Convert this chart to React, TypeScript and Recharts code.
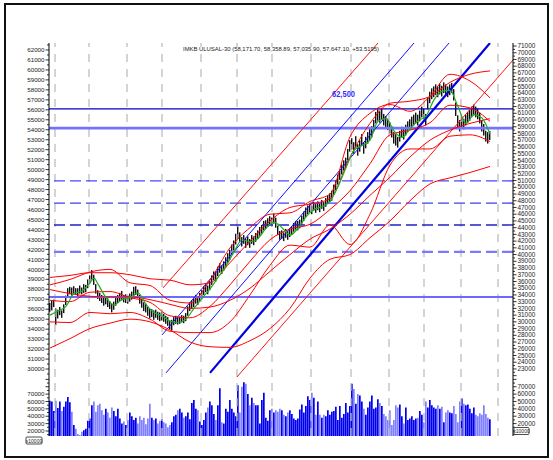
import React from 'react';
import { ComposedChart, Bar, Line, XAxis, YAxis, ReferenceLine, Cell } from 'recharts';

// ---------- data (daily, Nov 2008 - Nov 2009) ----------
const close = [
32100,32400,32700,30900,31200,31500,31200,31800,33300,34300,
34700,34400,34700,34600,34400,34700,34600,34900,35000,35600,
36200,37000,36200,34700,34000,33700,33300,33000,33100,32800,
32500,32100,32400,33000,33300,33700,33800,33400,33400,33300,
33600,33800,34400,34700,34100,33300,32700,32200,32100,31500,
31200,31300,31000,31200,30900,30700,30900,30600,30300,30000,
29500,29700,30100,30300,30100,30300,30400,30300,30600,31600,
32200,32500,32800,33300,33100,33600,34000,34600,35000,34700,
35300,36200,36800,36700,37400,38000,37700,38300,38900,39500,
39900,40700,41300,42200,43100,42500,41900,42200,41700,42000,
41600,42200,42000,42500,42900,43400,43700,44300,44400,44700,
45000,44800,45300,44700,43500,42800,42900,42600,43100,42800,
43200,43500,44000,44300,44300,44500,45100,45700,46300,46600,
46900,46600,47100,46800,47200,46900,47400,47100,47700,48100,
48400,48700,49600,50300,51100,51800,52600,53200,53600,54800,
56100,56400,55800,56700,55500,56100,57000,55800,56600,57300,
57800,58200,59100,60300,60700,60400,60900,60000,59700,59300,
58800,58200,57300,57000,56700,57600,58200,57900,58500,59000,
59300,59700,60000,60300,60000,60600,61200,60900,60000,62400,
63300,63900,64200,64500,64200,64600,64300,64800,64500,64200,
64500,64800,63700,61500,59700,59100,59700,59400,60000,60400,
60700,61200,61500,61200,60900,60300,59100,58500,57600,57300,
57647];

const high = [
32800,33100,33300,32000,31800,32200,31700,32600,33900,35000,
35200,35100,35300,35000,35000,35400,35100,35600,35500,36300,
36900,37700,37000,35600,34700,34300,34000,33600,33800,33500,
33100,32700,33000,33600,34000,34300,34600,34000,34100,33900,
34200,34500,35200,35300,34800,34000,33400,32900,32700,32200,
31900,31900,31700,31800,31500,31400,31500,31200,30900,30700,
30200,30300,30700,30900,30700,30800,31000,30900,31300,32300,
32900,33200,33500,34000,33800,34300,34700,35300,35700,35400,
36100,36900,37500,37400,38200,38700,38400,39000,39600,40200,
40700,41500,42100,43100,44200,43300,42600,42900,42400,42700,
42300,42900,42700,43200,43600,44100,44400,45000,45100,45400,
45700,45500,46100,45500,44300,43500,43600,43300,43800,43500,
43900,44200,44700,45000,45000,45200,45800,46400,47000,47300,
47600,47300,47800,47500,47900,47600,48100,47800,48400,48800,
49100,49500,50400,51100,51900,52600,53400,54000,54400,55700,
57000,57300,56700,57600,56400,57000,57900,56700,57500,58200,
58700,59100,60000,61200,61600,61300,61800,60900,60600,60200,
59700,59100,58200,57900,57500,58400,59000,58700,59300,59800,
60100,60500,60800,61100,60800,61400,62000,61700,60900,63300,
64200,64700,65000,65300,65000,65400,65100,65600,65300,65000,
65300,65500,64600,62600,60700,60000,60500,60200,60800,61200,
61500,62000,62300,62000,61700,61100,60000,59400,58400,58200,
58359];

const low = [
31500,31700,32200,29500,30500,31000,30600,31300,32500,33700,
34100,33900,34200,34000,33800,34200,34100,34300,34400,35000,
35700,36300,35500,34200,33400,33100,32800,32400,32600,32200,
31900,31400,31800,32400,32800,33100,33200,32900,32800,32700,
33000,33300,33800,34000,33500,32700,32100,31600,31400,30900,
30500,30700,30300,30600,30300,30100,30200,30000,29700,29400,
28900,28700,29500,29700,29600,29700,29900,29800,30100,30900,
31600,31900,32200,32700,32500,33000,33400,34000,34400,34100,
34700,35500,36200,36000,36800,37300,37100,37600,38200,38800,
39200,40000,40600,41500,42300,41800,41200,41600,41000,41400,
41000,41600,41400,41900,42300,42800,43100,43600,43800,44100,
44400,44200,44600,44000,42900,42200,42300,42000,42500,42200,
42600,42900,43400,43700,43600,43900,44400,45000,45600,46000,
46300,46000,46500,46200,46600,46300,46800,46500,47100,47500,
47800,48000,48900,49600,50400,51100,51900,52500,52900,54000,
55300,55600,55000,55900,54700,55300,56200,55000,55800,56500,
57000,57400,58300,59500,59900,59600,60100,59200,58900,58500,
58000,57400,56500,56200,55900,56800,57400,57100,57700,58200,
58500,58900,59200,59500,59200,59800,60400,60100,59200,61600,
62500,63100,63400,63700,63400,63800,63500,64000,63700,63400,
63700,64000,62900,60600,58900,58300,58900,58600,59200,59600,
59900,60400,60700,60400,60100,59500,58300,57700,56800,56500,
57036];

const volume = [
61000,60000,47000,61000,51000,60000,47000,53000,60000,66000,59000,46000,
28000,23000,16000,14000,19000,21000,23000,
34000,37000,55000,60000,46000,55000,57000,
48000,42000,50000,45000,38000,52000,47000,40000,50000,37000,30000,33000,28000,35000,45000,40000,35000,38000,30000,40000,
35000,38000,29000,37000,57000,38000,35000,37000,30000,34000,36000,
32000,30000,25000,28000,32000,40000,42000,48000,50000,45000,38000,40000,45000,36000,58000,62000,50000,48000,33000,
28000,35000,45000,52000,60000,55000,43000,35000,55000,78000,32000,30000,50000,46000,62000,50000,45000,40000,
82000,45000,80000,86000,84000,70000,55000,65000,58000,55000,55000,30000,62000,72000,38000,34000,
48000,50000,45000,48000,46000,50000,48000,
42000,40000,45000,48000,43000,37000,35000,37000,49000,56000,45000,54000,67000,62000,
72000,65000,42000,60000,42000,38000,42000,40000,48000,42000,46000,47000,53000,35000,54000,38000,43000,58000,45000,54000,
84000,77000,57000,70000,68000,60000,50000,42000,52000,60000,68000,50000,52000,63000,58000,54000,43000,40000,35000,48000,
28000,35000,55000,52000,56000,40000,30000,52000,35000,37000,40000,35000,37000,38000,47000,42000,32000,
60000,52000,62000,55000,52000,50000,55000,50000,53000,32000,45000,48000,45000,44000,54000,43000,32000,60000,64000,
57000,55000,56000,50000,44000,52000,42000,40000,44000,42000,55000,43000,38000,36000];

// short moving average (green), sampled
const maIdx = [0,4,8,12,16,20,22,24,28,32,36,40,44,48,52,56,60,64,68,72,76,80,84,88,92,96,100,104,108,112,116,120,124,128,132,136,140,144,148,152,156,160,164,168,172,176,180,184,188,192,196,200,204,208,212,216,220];
const maVal = [31000,31600,32300,34200,34600,35800,36500,35600,33600,32500,33300,33600,34300,32600,31400,30900,30100,29900,30400,32000,33500,34900,36600,38300,40400,42200,41900,42400,43900,44800,44000,42900,43900,45600,46700,47100,47900,50100,52900,55500,56200,57000,59800,60200,58400,57400,58700,59900,60600,63000,64300,64400,62000,59500,60800,60300,57900];

// Bollinger style bands (red), sampled every 10 sessions
const bandIdx = [0,10,20,30,40,50,60,70,80,90,100,110,120,130,140,150,160,170,180,190,200,210,220];
const mid20 = [33200,33000,34400,34500,33600,32900,30900,30600,32300,35500,39000,42200,43800,44500,46700,49500,53500,57800,58500,59600,62200,61800,59800];
const upper20 = [35500,36300,37400,37800,35800,35400,33200,32800,36200,41000,44000,46000,46200,47900,49000,57500,61000,62300,61300,63500,66800,65800,63300];
const lower20 = [30000,29900,31400,31200,31400,30400,28600,28400,28400,30000,34000,38400,41400,41100,44400,41500,46000,53300,55700,55700,57600,57800,56800];
const mid50 = [34800,34200,33800,33700,33700,33300,32600,32000,32200,33200,35000,37500,40000,42300,43800,46000,48800,51500,54500,57000,58500,59500,60200];
const upper50 = [36600,36900,37300,37300,37000,36400,36200,35500,35800,38800,42000,45000,47000,47500,48300,54500,59500,62500,62800,63500,65600,66800,67300];
const lower50 = [26100,27500,29000,29800,30400,30000,28800,27000,26300,26200,27200,29000,32000,36500,39300,40000,42500,45000,48000,50500,51400,52200,53100];

// support / resistance levels
const levels = [61650, 58800, 50950, 47650, 44400, 40400, 33700];

// regression channel end points [session, value]
const channels = [
  [[56, 28050], [182, 71450]],
  [[58, 22410], [199.5, 71450]],
  [[80, 22410], [220, 71450]],
  [[56.5, 35040], [164, 71450]],
  [[93.5, 21810], [231.5, 68920]],
];

const monthTicks = [2.5, 19.5, 38.5, 56, 75.5, 93.5, 111, 130.5, 150.5, 169.5, 187, 205.5, 224];
const monthLabels = ['December', '2009', 'February', 'March', 'April', 'May', 'June', 'July', 'August', 'September', 'October', 'November', 'Dece'];

const titleText = 'IMKB ULUSAL-30 (58,171.70, 58,358.89, 57,035.90, 57,647.10, +53.5195)';
const targetLabel = '62,500';

// ---------- styles ----------
const FONT = 'Liberation Sans, Arial, sans-serif';
const levelStyles = [
  { stroke: '#0000cc', w: 1.2, dash: undefined },
  { stroke: '#7373ff', w: 2.6, dash: undefined },
  { stroke: '#4848ff', w: 1.4, dash: '11 5' },
  { stroke: '#4040ee', w: 1.4, dash: '11 5' },
  { stroke: '#2020c8', w: 1.4, dash: '11 5' },
  { stroke: '#7a7aff', w: 2.2, dash: '11 5' },
  { stroke: '#6a6aff', w: 2.0, dash: undefined },
];
const channelStyles = [
  { stroke: '#1010ff', w: 1 },
  { stroke: '#1010ff', w: 1 },
  { stroke: '#0000e0', w: 2.2 },
  { stroke: '#ff1010', w: 1 },
  { stroke: '#ff1010', w: 1 },
];

// ---------- tables built from arrays ----------
const priceRows: any[] = close.map((c, i) => ({ i, c, rng: [low[i], high[i]] }));
maIdx.forEach((ix, k) => { priceRows[ix].ma = maVal[k]; });
bandIdx.forEach((ix, k) => {
  const r = priceRows[ix];
  r.m20 = mid20[k]; r.u20 = upper20[k]; r.l20 = lower20[k];
  r.m50 = mid50[k]; r.u50 = upper50[k]; r.l50 = lower50[k];
});
const volRows = volume.map((v, i) => ({ i, v, up: i === 0 || close[i] >= close[i - 1] }));

const range = (a: number, b: number, s: number) => { const r: number[] = []; for (let v = a; v <= b; v += s) r.push(v); return r; };
const leftTicks = range(29500, 62500, 500);
const rightTicks = range(22000, 71000, 500);
const volLeftTicks = range(15000, 90000, 5000);
const volRightTicks = range(5000, 80000, 5000);

const XDOMAIN: [number, number] = [-0.5, 231.5];

function LeftTick(props: any) {
  const { x, y, payload } = props;
  const v = payload.value;
  const major = v % 1000 === 0;
  return (
    <g>
      <line x1={x - (major ? 3.5 : 2)} x2={x} y1={y} y2={y} stroke="#000" strokeWidth={0.8} />
      {major && <text x={x - 4.5} y={y + 2.2} textAnchor="end" fontSize={6.2} fontFamily={FONT} fill="#222">{v}</text>}
    </g>
  );
}
function RightTick(props: any) {
  const { x, y, payload } = props;
  const v = payload.value;
  const major = v % 1000 === 0 && v >= 23000;
  return (
    <g>
      <line x1={x} x2={x + (v % 1000 === 0 ? 3.5 : 2)} y1={y} y2={y} stroke="#000" strokeWidth={0.8} />
      {major && <text x={x + 4.5} y={y + 2.2} textAnchor="start" fontSize={6.4} fontFamily={FONT} fill="#222">{v}</text>}
    </g>
  );
}
function VolLeftTick(props: any) {
  const { x, y, payload } = props;
  const v = payload.value;
  const major = v % 10000 === 0 && v >= 20000 && v <= 70000;
  return (
    <g>
      <line x1={x - (v % 10000 === 0 ? 3.5 : 2)} x2={x} y1={y} y2={y} stroke="#000" strokeWidth={0.8} />
      {major && <text x={x - 4.5} y={y + 2.2} textAnchor="end" fontSize={6.2} fontFamily={FONT} fill="#222">{v}</text>}
    </g>
  );
}
function VolRightTick(props: any) {
  const { x, y, payload } = props;
  const v = payload.value;
  const major = v % 10000 === 0 && v >= 20000 && v <= 70000;
  return (
    <g>
      <line x1={x} x2={x + (v % 10000 === 0 ? 3.5 : 2)} y1={y} y2={y} stroke="#000" strokeWidth={0.8} />
      {major && <text x={x + 4.5} y={y + 2.2} textAnchor="start" fontSize={6.4} fontFamily={FONT} fill="#222">{v}</text>}
    </g>
  );
}
function MonthTick(props: any) {
  const { x, y, payload } = props;
  const k = monthTicks.indexOf(payload.value);
  return (
    <g>
      <line x1={x} x2={x} y1={y} y2={y + 10} stroke="#000" strokeWidth={1.2} />
      <text x={x + 2.5} y={y + 7.5} fontSize={6.2} fontFamily={FONT} fill="#222">{monthLabels[k]}</text>
    </g>
  );
}
function CandleShape(props: any) {
  const { x, y, width, height } = props;
  if (x == null || y == null) return null;
  const top = Math.min(y, y + height);
  const h = Math.max(Math.abs(height), 1);
  return <rect x={x + width / 2 - 0.7} y={top} width={1.4} height={h} fill="#111" />;
}

export default function App() {
  return (
    <div style={{ position: 'absolute', left: 0, top: 0, width: 553, height: 460, background: '#fff' }}>
      <div style={{ position: 'absolute', left: 0, top: 0 }}>
        <ComposedChart width={553} height={460} data={priceRows} margin={{ top: 43, right: 0, left: 0, bottom: 83 }}>
          <XAxis type="number" dataKey="i" domain={XDOMAIN} allowDataOverflow height={0} tick={false} tickLine={false} axisLine={{ stroke: '#555' }} />
          <YAxis yAxisId="l" orientation="left" width={49} domain={[29200, 62700]} allowDataOverflow ticks={leftTicks} interval={0} tickSize={0} tickMargin={0} tick={(p: any) => <LeftTick {...p} />} axisLine={{ stroke: '#000' }} />
          <YAxis yAxisId="r" orientation="right" width={40} domain={[21800, 71450]} allowDataOverflow ticks={rightTicks} interval={0} tickSize={0} tickMargin={0} tick={(p: any) => <RightTick {...p} />} axisLine={{ stroke: '#000' }} />
          {monthTicks.map((m) => (
            <ReferenceLine key={'g' + m} x={m} yAxisId="r" stroke="#bdbdbd" strokeWidth={1.3} strokeDasharray="8 7" />
          ))}
          {levels.map((lv, k) => (
            <ReferenceLine key={'lv' + k} y={lv} yAxisId="r" stroke={levelStyles[k].stroke} strokeWidth={levelStyles[k].w} strokeDasharray={levelStyles[k].dash} />
          ))}
          {channels.map((seg, k) => (
            <ReferenceLine key={'ch' + k} yAxisId="r" ifOverflow="hidden" segment={[{ x: seg[0][0], y: seg[0][1] }, { x: seg[1][0], y: seg[1][1] }]} stroke={channelStyles[k].stroke} strokeWidth={channelStyles[k].w} />
          ))}
          <Line yAxisId="r" dataKey="u50" stroke="#ff0000" strokeWidth={1} dot={false} connectNulls type="monotone" isAnimationActive={false} />
          <Line yAxisId="r" dataKey="m50" stroke="#ff0000" strokeWidth={1} dot={false} connectNulls type="monotone" isAnimationActive={false} />
          <Line yAxisId="r" dataKey="l50" stroke="#ff0000" strokeWidth={1} dot={false} connectNulls type="monotone" isAnimationActive={false} />
          <Line yAxisId="r" dataKey="u20" stroke="#ff0000" strokeWidth={1} dot={false} connectNulls type="monotone" isAnimationActive={false} />
          <Line yAxisId="r" dataKey="m20" stroke="#ff0000" strokeWidth={1} dot={false} connectNulls type="monotone" isAnimationActive={false} />
          <Line yAxisId="r" dataKey="l20" stroke="#ff0000" strokeWidth={1} dot={false} connectNulls type="monotone" isAnimationActive={false} />
          <Bar yAxisId="r" dataKey="rng" barSize={1.4} shape={(p: any) => <CandleShape {...p} />} isAnimationActive={false} />
          <Line yAxisId="r" dataKey="ma" stroke="#1fae1f" strokeWidth={1.2} dot={false} connectNulls type="monotone" isAnimationActive={false} />
        </ComposedChart>
      </div>
      <div style={{ position: 'absolute', left: 0, top: 0 }}>
        <ComposedChart width={553} height={460} data={volRows} margin={{ top: 377, right: 0, left: 0, bottom: 24 }}>
          <XAxis type="number" dataKey="i" domain={XDOMAIN} allowDataOverflow height={0} ticks={monthTicks} interval={0} tickSize={0} tickMargin={0} tick={(p: any) => <MonthTick {...p} />} axisLine={{ stroke: '#000' }} />
          <YAxis yAxisId="vl" orientation="left" width={49} domain={[13200, 93200]} allowDataOverflow ticks={volLeftTicks} interval={0} tickSize={0} tickMargin={0} tick={(p: any) => <VolLeftTick {...p} />} axisLine={{ stroke: '#000' }} />
          <YAxis yAxisId="vr" orientation="right" width={40} domain={[3150, 83230]} allowDataOverflow ticks={volRightTicks} interval={0} tickSize={0} tickMargin={0} tick={(p: any) => <VolRightTick {...p} />} axisLine={{ stroke: '#000' }} />
          {monthTicks.map((m) => (
            <ReferenceLine key={'vg' + m} x={m} yAxisId="vl" stroke="#bdbdbd" strokeWidth={1.3} strokeDasharray="8 7" />
          ))}
          <Bar yAxisId="vl" dataKey="v" barSize={1.7} isAnimationActive={false}>
            {volRows.map((r) => (
              <Cell key={r.i} fill={r.up ? '#0000ee' : '#7f7fff'} />
            ))}
          </Bar>
        </ComposedChart>
      </div>
      <svg width={553} height={460} style={{ position: 'absolute', left: 0, top: 0, pointerEvents: 'none' }}>
        <rect x={5} y={4} width={543} height={453} fill="none" stroke="#111" strokeWidth={2} />
        <text x={183} y={51} fontSize={6} fontFamily={FONT} fill="#222" textLength={196} lengthAdjust="spacingAndGlyphs">{titleText}</text>
        <text x={332} y={97} fontSize={8.5} fontWeight="bold" fontFamily={FONT} fill="#3030ff" textLength={23} lengthAdjust="spacingAndGlyphs">{targetLabel}</text>
        <rect x={26} y={437} width={16} height={7} fill="#fff" stroke="#222" strokeWidth={0.8} rx={1} />
        <text x={34} y={442.5} fontSize={5} fontFamily={FONT} textAnchor="middle" fill="#222">x10000</text>
        <rect x={514} y={427.5} width={15} height={7} fill="#fff" stroke="#222" strokeWidth={0.8} rx={1} />
        <text x={521.5} y={433} fontSize={5} fontFamily={FONT} textAnchor="middle" fill="#222">x10000</text>
      </svg>
    </div>
  );
}
